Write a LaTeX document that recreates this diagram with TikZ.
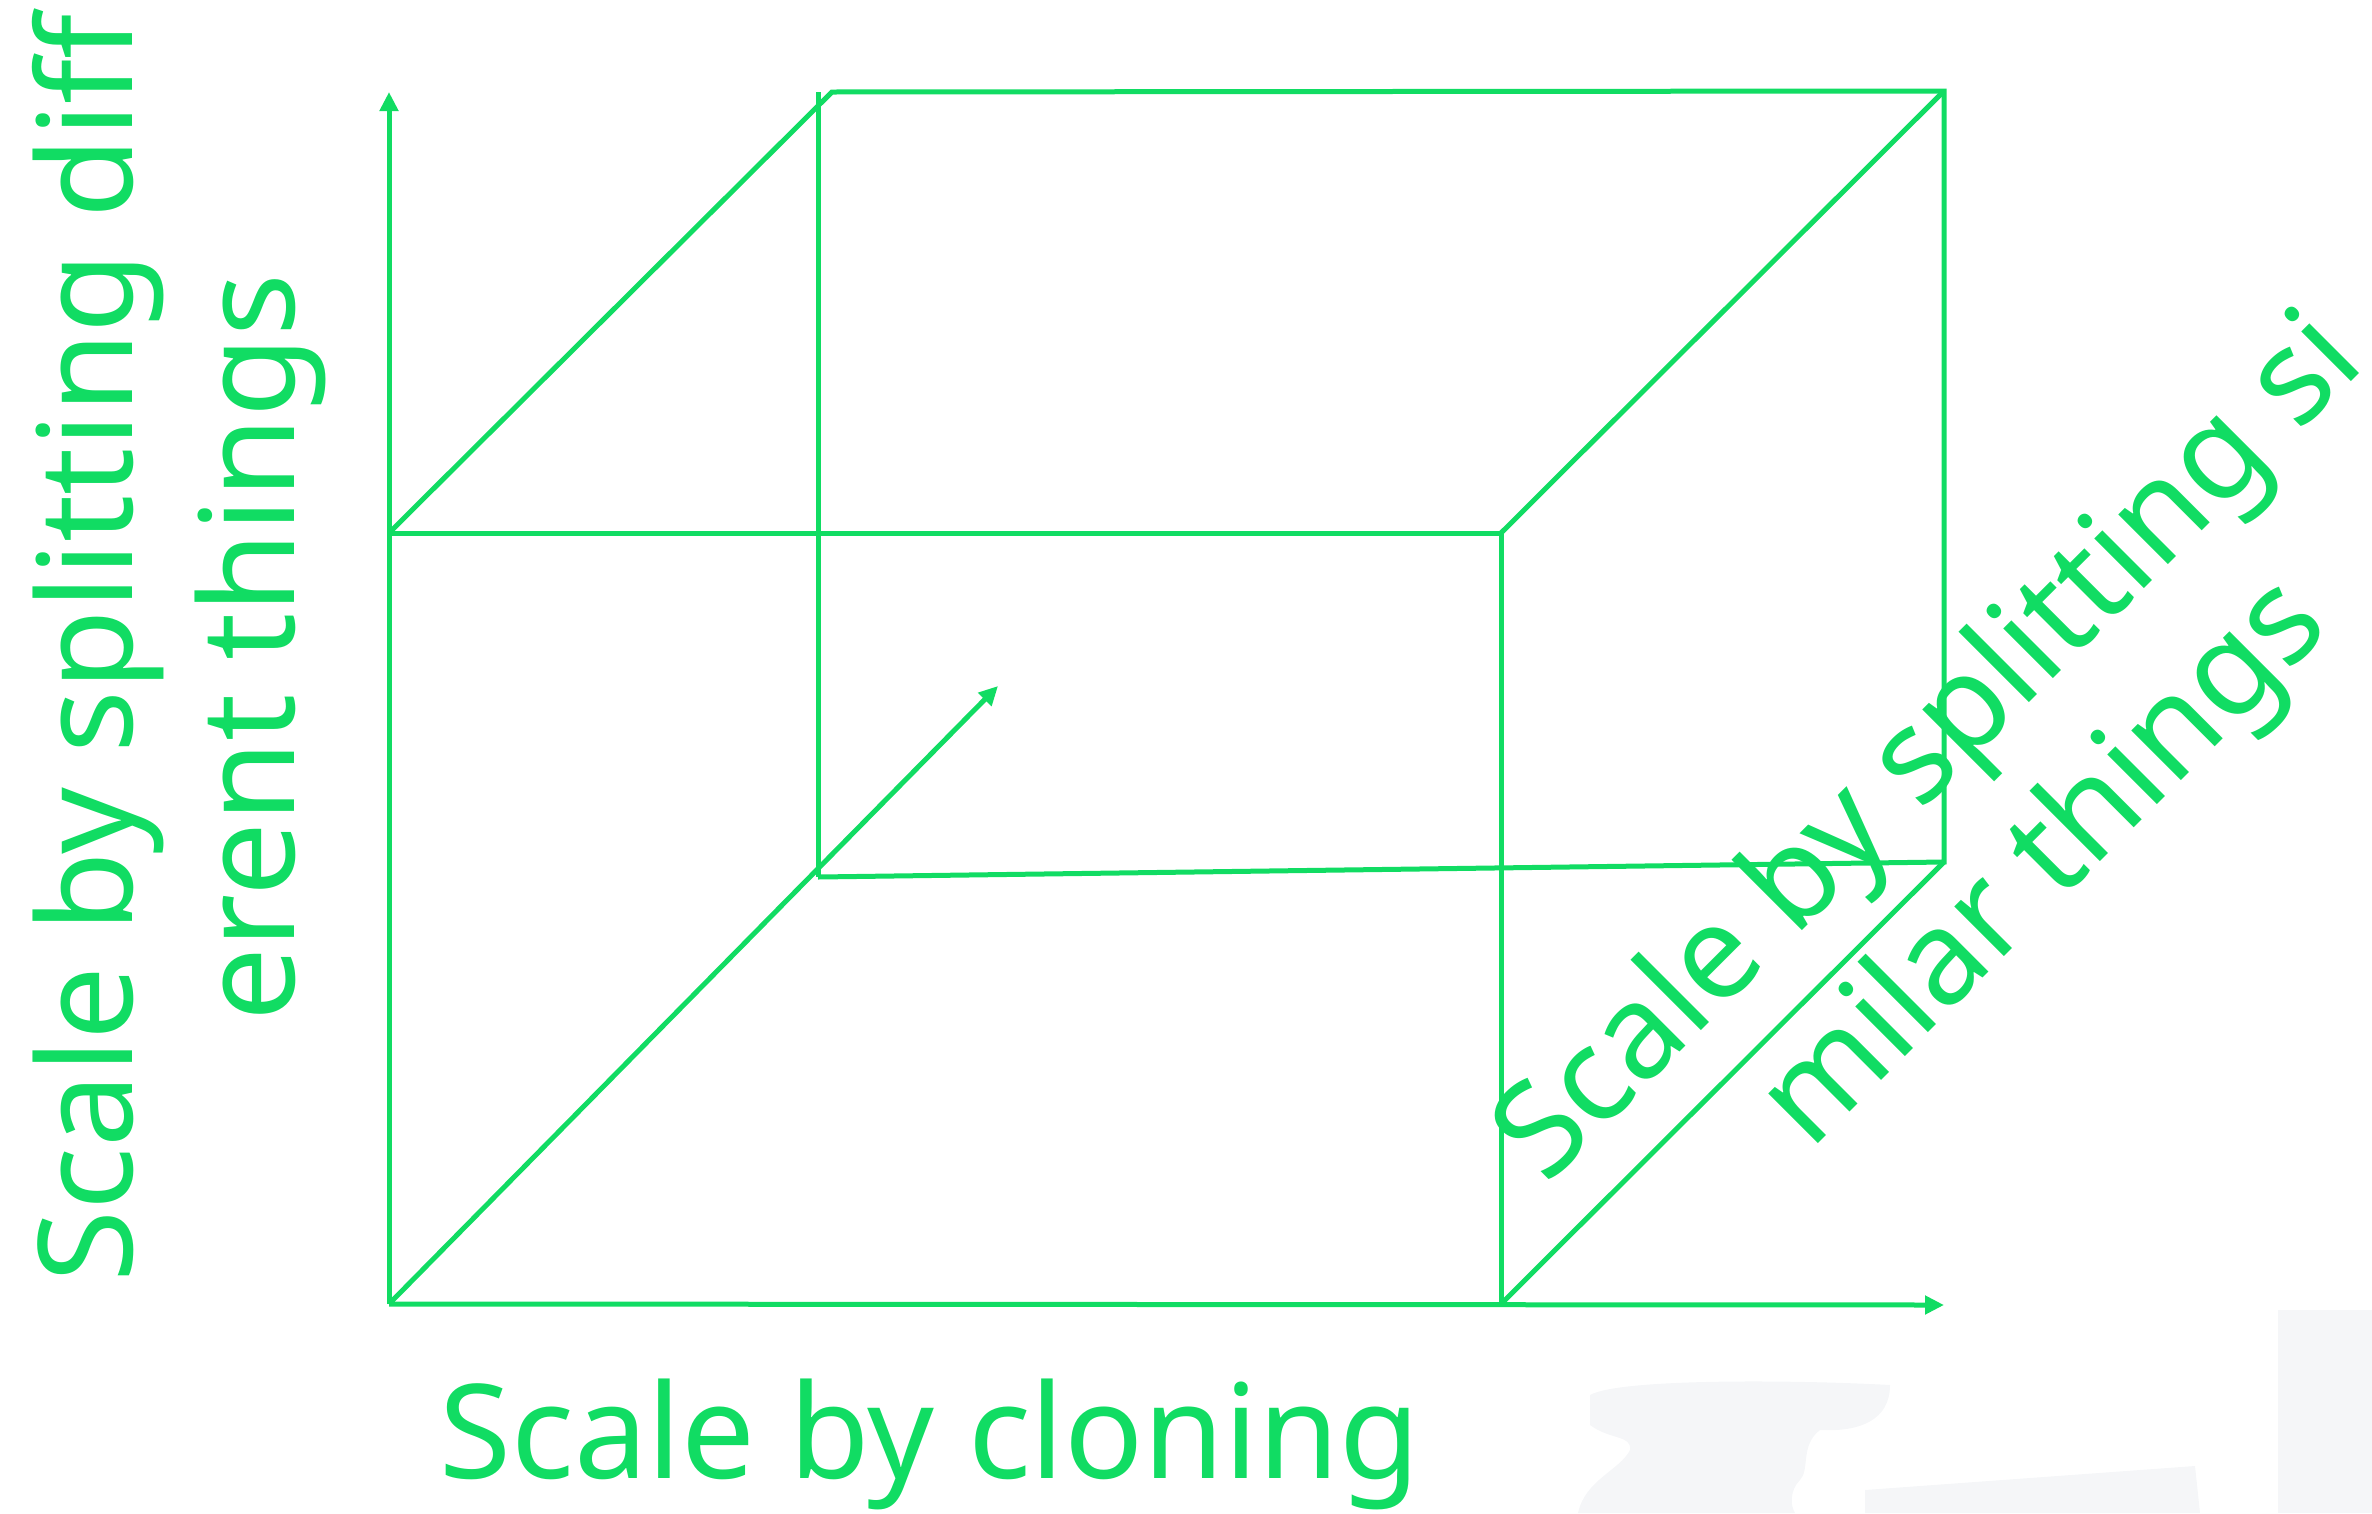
\documentclass[tikz,border=0pt]{standalone}
\usepackage{fontspec}
\setmainfont{Noto Sans}
\usetikzlibrary{arrows.meta}
\definecolor{cgreen}{RGB}{17,220,99}
\definecolor{wm}{RGB}{245,246,248}
\begin{document}
\begin{tikzpicture}[x=1pt,y=-1pt,
  edge/.style={draw=cgreen,line width=5pt,line join=miter},
  axis/.style={edge,-{Triangle[length=19pt,width=18pt]}},
  lbl/.style={text=cgreen,font=\fontsize{131}{162}\selectfont,inner sep=0pt,align=center}]
\useasboundingbox (0,0) rectangle (2372,1513);
% faint watermark
\fill[wm] (1590,1395) .. controls (1620,1378) and (1800,1380) .. (1890,1385) .. controls (1890,1420) and (1860,1432) .. (1820,1430) .. controls (1800,1445) and (1810,1470) .. (1800,1480) .. controls (1790,1490) and (1790,1505) .. (1795,1513) -- (1578,1513) .. controls (1585,1480) and (1620,1470) .. (1630,1450) .. controls (1632,1435) and (1610,1440) .. (1590,1425) -- cycle;
\fill[wm] (1865,1490) -- (2195,1466) -- (2200,1513) -- (1865,1513) -- cycle;
\fill[wm] (2278,1310) rectangle (2372,1513);
% coordinates
\coordinate (O) at (389,1304);
\coordinate (Ytip) at (389,92);
\coordinate (Xtip) at (1944,1305);
\coordinate (Ztip) at (998,686);
\coordinate (FTL) at (389,533);
\coordinate (FTR) at (1501,533);
\coordinate (FBR) at (1501,1304);
\coordinate (BTL) at (832,92);
\coordinate (BTR) at (1944,91);
\coordinate (BBR) at (1944,862);
\coordinate (BBL) at (818,877);
\coordinate (BLtop) at (818,92);
% cube
\draw[edge] (FTL) -- (FTR) -- (FBR);
\draw[edge] (FTL) -- (BTL) -- (BTR) -- (BBR) -- (BBL);
\draw[edge] (BLtop) -- (BBL);
\draw[edge] (FTR) -- (BTR);
\draw[edge] (FBR) -- (BBR);
% axes
\draw[axis] (O) -- (Ytip);
\draw[axis] (O) -- (Xtip);
\draw[axis] (O) -- (Ztip);
% labels
\node[lbl,anchor=base west] (xl) at (439,1478) {Scale by cloning};
\node[lbl,rotate=90] (yl) at (179,648) {Scale by splitting diff\\erent things};
\node[lbl,rotate=45] (zl) at (1990,809) {Scale by splitting si\\milar things};
\end{tikzpicture}
\end{document}
